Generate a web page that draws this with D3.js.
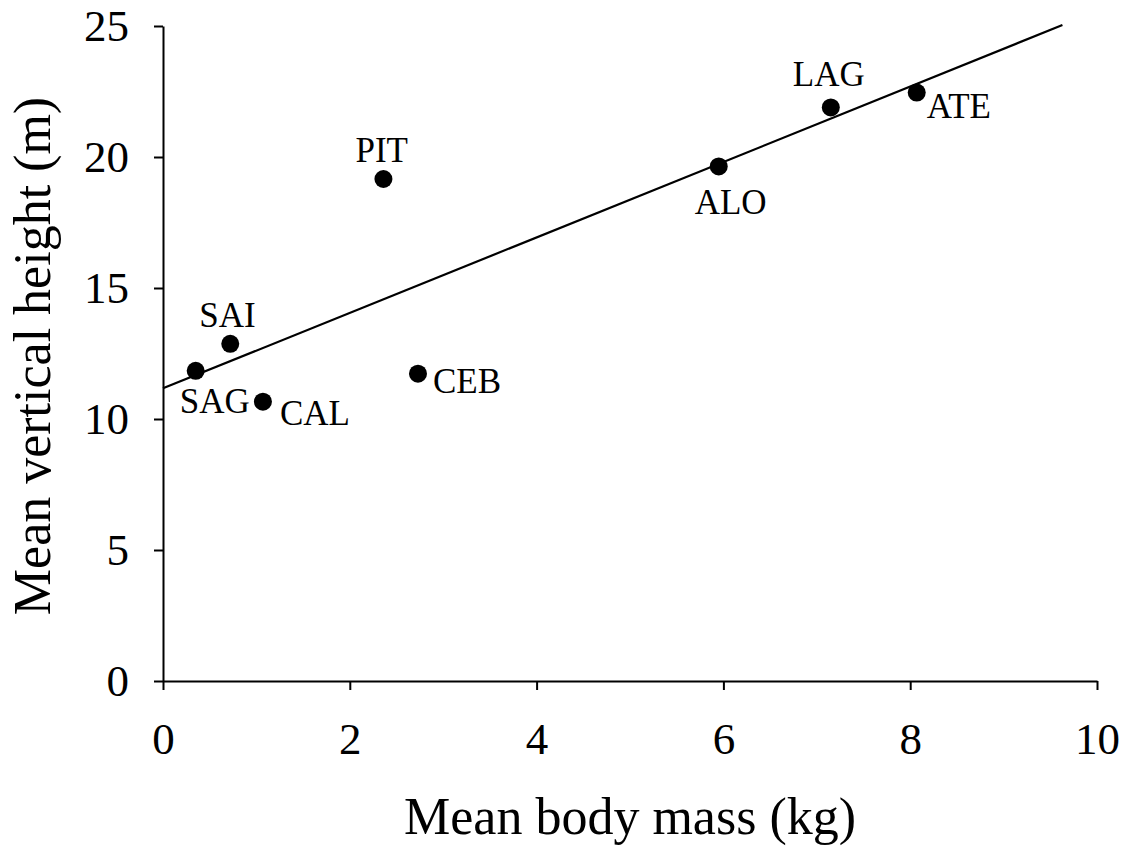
<!DOCTYPE html>
<html>
<head>
<meta charset="utf-8">
<script src="https://cdn.jsdelivr.net/npm/d3@7"></script>
<style>
  body { margin: 0; background: #fff; }
  text { font-family: "Liberation Serif", "Times New Roman", serif; fill: #000; }
</style>
</head>
<body>
<div id="chart"></div>
<script>
// species codes and values
const species = ["SAG", "SAI", "CAL", "PIT", "CEB", "ALO", "LAG", "ATE"];
const bodyMass = [0.35, 0.72, 1.07, 2.36, 2.73, 5.95, 7.15, 8.07];
const vertHeight = [11.84, 12.87, 10.66, 19.16, 11.73, 19.64, 21.89, 22.46];
// label offsets from each point to the label's left baseline (dx, dy)
const labelPos = [[-16, 42], [-31, -17], [17, 23], [-28, -17], [15, 19], [-24, 48], [-38, -21], [10, 25]];
const xTicks = [0, 2, 4, 6, 8, 10];
const yTicks = [0, 5, 10, 15, 20, 25];
// fitted line endpoints (x values) and coefficients
const fitX = [0, 9.63];
const fitIntercept = 11.17;
const fitSlope = 1.44;

const width = 1128, height = 846;
const margin = { left: 163, right: 31, top: 26, bottom: 165 };

const svg = d3.select("#chart").append("svg")
    .attr("width", width)
    .attr("height", height);

const x = d3.scaleLinear().domain([0, 10]).range([margin.left, width - margin.right]);
const y = d3.scaleLinear().domain([0, 25]).range([height - margin.bottom, margin.top]);

// x axis
const xAxis = svg.append("g")
    .attr("transform", `translate(0,${y(0)})`)
    .call(d3.axisBottom(x).tickValues(xTicks).tickSize(9).tickPadding(32).tickSizeOuter(0));
xAxis.select(".domain").attr("stroke-width", 2);
xAxis.selectAll(".tick line").attr("stroke-width", 2);
xAxis.selectAll(".tick text").attr("font-size", 45).attr("font-family", "Liberation Serif");

// y axis
const yAxis = svg.append("g")
    .attr("transform", `translate(${x(0)},0)`)
    .call(d3.axisLeft(y).tickValues(yTicks).tickSize(9).tickPadding(25).tickSizeOuter(0));
yAxis.select(".domain").attr("stroke-width", 2);
yAxis.selectAll(".tick line").attr("stroke-width", 2);
yAxis.selectAll(".tick text").attr("font-size", 45).attr("font-family", "Liberation Serif");

// fitted line
svg.append("line")
    .attr("x1", x(fitX[0])).attr("y1", y(fitIntercept + fitSlope * fitX[0]))
    .attr("x2", x(fitX[1])).attr("y2", y(fitIntercept + fitSlope * fitX[1]))
    .attr("stroke", "#000")
    .attr("stroke-width", 2.2);

// points
svg.selectAll("circle.pt")
    .data(species)
    .enter().append("circle")
    .attr("class", "pt")
    .attr("cx", (d, i) => x(bodyMass[i]))
    .attr("cy", (d, i) => y(vertHeight[i]))
    .attr("r", 9)
    .attr("fill", "#000");

// point labels
svg.selectAll("text.lbl")
    .data(species)
    .enter().append("text")
    .attr("class", "lbl")
    .attr("x", (d, i) => x(bodyMass[i]) + labelPos[i][0])
    .attr("y", (d, i) => y(vertHeight[i]) + labelPos[i][1])
    .attr("font-size", 35)
    .text(d => d);

// axis titles
svg.append("text")
    .attr("x", 630)
    .attr("y", 834)
    .attr("text-anchor", "middle")
    .attr("font-size", 52)
    .text("Mean body mass (kg)");

svg.append("text")
    .attr("transform", `translate(50,356) rotate(-90)`)
    .attr("text-anchor", "middle")
    .attr("font-size", 52)
    .text("Mean vertical height (m)");
</script>
</body>
</html>
